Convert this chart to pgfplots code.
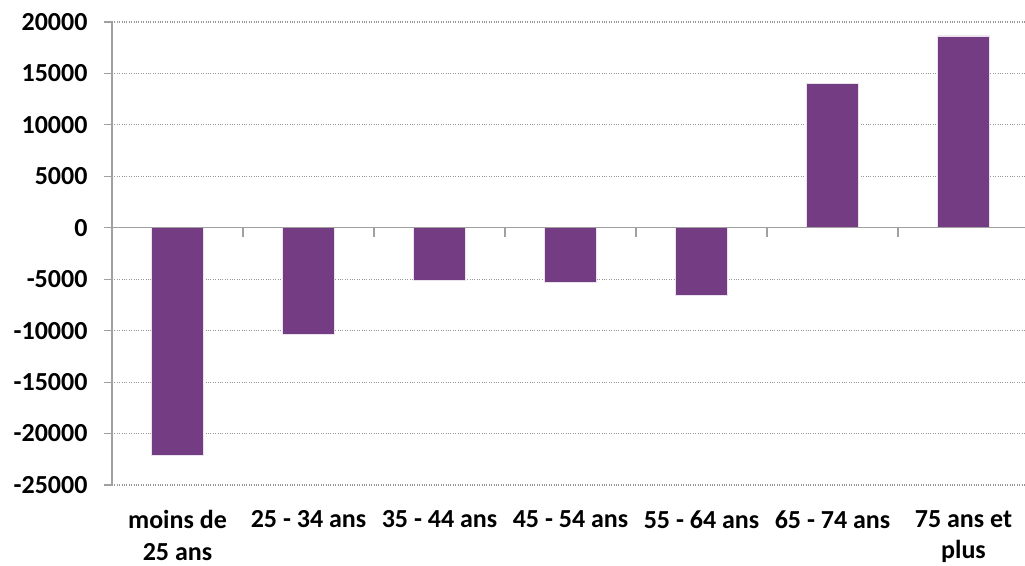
\documentclass[border=0pt]{standalone}
\usepackage{pgfplots}
\pgfplotsset{compat=1.18}
\usepackage{fontspec}
\setmainfont{Carlito}
\definecolor{barpurple}{RGB}{116,61,131}
\definecolor{axisgray}{RGB}{160,160,160}
\definecolor{gridgray}{RGB}{150,150,150}
\begin{document}
\begin{tikzpicture}
\begin{axis}[
  at={(0,0)}, anchor=south west,
  width=917pt, height=463pt, scale only axis,
  xmin=-0.5, xmax=6.5,
  ymin=-25000, ymax=20000,
  ytick distance=5000,
  scaled y ticks=false,
  xtick={0,...,6},
  xticklabels={{moins de\\25 ans},{25 - 34 ans},{35 - 44 ans},{45 - 54 ans},{55 - 64 ans},{65 - 74 ans},{75 ans et\\plus}},
  xticklabel style={align=center, yshift=-14pt, font=\fontsize{26}{31.5}\selectfont\bfseries},
  yticklabel style={font=\fontsize{26}{30}\selectfont\bfseries, xshift=-13pt},
  /pgf/number format/.cd, set thousands separator={}, assume math mode=true, /pgfplots/.cd,
  x axis line style={draw=none},
  axis y line*=left,
  y axis line style={draw=axisgray, line width=1.2pt},
  major x tick style={draw=none},
  major y tick style={draw=axisgray, line width=1.2pt},
  tick align=outside,
  major tick length=8pt,
  ymajorgrids,
  major grid style={gridgray, dotted, line width=1.1pt},
  clip=false,
]
\addplot[ybar, bar width=52pt, fill=barpurple, draw=white!85!barpurple, line width=0.6pt]
  coordinates {(0,-22100) (1,-10350) (2,-5150) (3,-5300) (4,-6600) (5,14050) (6,18650)};
% zero line with ticks between the categories
\draw[axisgray, line width=1.2pt] (axis cs:-0.5,0) -- (axis cs:6.5,0);
\pgfplotsinvokeforeach{0.5,1.5,2.5,3.5,4.5,5.5}{
  \draw[axisgray, line width=1.2pt] (axis cs:#1,0) -- ([yshift=-9pt]axis cs:#1,0);
}
\end{axis}
\pgfresetboundingbox
\useasboundingbox (-112pt,-80pt) rectangle (913pt,485pt);
\end{tikzpicture}
\end{document}
